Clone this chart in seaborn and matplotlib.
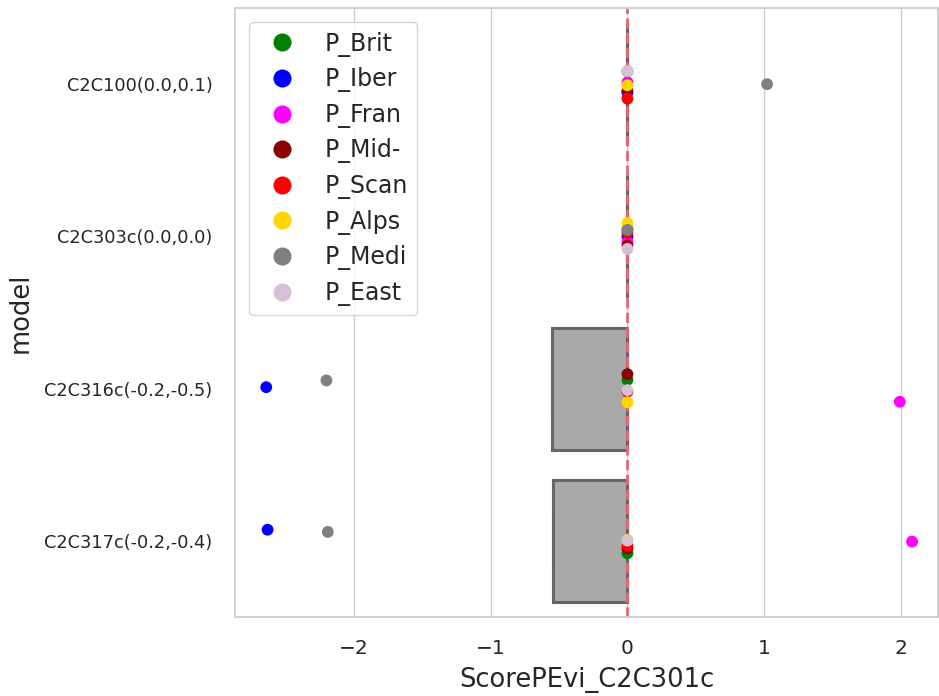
import numpy as np
import pandas as pd
import matplotlib
matplotlib.use("Agg")
import matplotlib.pyplot as plt
from matplotlib.lines import Line2D
import seaborn as sns

models = ["C2C100(0.0,0.1)", "C2C303c(0.0,0.0)", "C2C316c(-0.2,-0.5)", "C2C317c(-0.2,-0.4)"]
regions = ["P_Brit", "P_Iber", "P_Fran", "P_Mid-", "P_Scan", "P_Alps", "P_Medi", "P_East"]
region_colors = ["green", "blue", "magenta", "darkred", "red", "gold", "gray", "thistle"]

# score per model, in region order
scores_c2c100 = [0.0, 0.0, 0.0, 0.0, 0.0, 0.0, 1.02, 0.0]
scores_c2c303c = [0.0, 0.0, 0.0, 0.0, 0.0, 0.0, 0.0, 0.0]
scores_c2c316c = [0.0, -2.64, 1.99, 0.0, 0.0, 0.0, -2.20, 0.0]
scores_c2c317c = [0.0, -2.63, 2.08, 0.0, 0.0, 0.0, -2.19, 0.0]

all_scores = [scores_c2c100, scores_c2c303c, scores_c2c316c, scores_c2c317c]
rows = []
for m, sc in zip(models, all_scores):
    for r, v in zip(regions, sc):
        rows.append({"model": m, "region": r, "ScorePEvi_C2C301c": v})
df = pd.DataFrame(rows)

sns.set_theme(style="whitegrid")
plt.rcParams['font.family'] = ['DejaVu Sans']

fig = plt.figure(figsize=(9.39, 6.96), dpi=100)
ax = fig.add_axes([0.250, 0.1135, 0.749, 0.875])

sns.boxplot(data=df, x="ScorePEvi_C2C301c", y="model", order=models,
            color="darkgray", linecolor="#666666", linewidth=2.2,
            showfliers=False, width=0.8, ax=ax)
ax.axvline(0, color="#e86a6a", linestyle="--", linewidth=2, zorder=2.5)

np.random.seed(7)
palette = dict(zip(regions, region_colors))
sns.stripplot(data=df, x="ScorePEvi_C2C301c", y="model", order=models,
              hue="region", hue_order=regions, palette=palette,
              size=8.5, jitter=True, linewidth=0, zorder=3, ax=ax, legend=False)

ax.set_xlim(-2.87, 2.27)
ax.set_xlabel("ScorePEvi_C2C301c", fontsize=18.5, labelpad=6)
ax.set_ylabel("model", fontsize=18.5, labelpad=8)
ax.tick_params(axis="x", labelsize=14.5, pad=10)
ax.tick_params(axis="y", labelsize=12.8, pad=10)
ax.grid(axis="y", visible=False)

handles = [Line2D([0], [0], marker="o", linestyle="", markersize=13,
                  markerfacecolor=c, markeredgecolor=c, markeredgewidth=0)
           for c in region_colors]
ax.legend(handles, regions, loc="upper left", fontsize=17, labelspacing=0.45,
          handletextpad=0.8, borderaxespad=0.6, frameon=True)

fig.savefig("out.png", dpi=100)
